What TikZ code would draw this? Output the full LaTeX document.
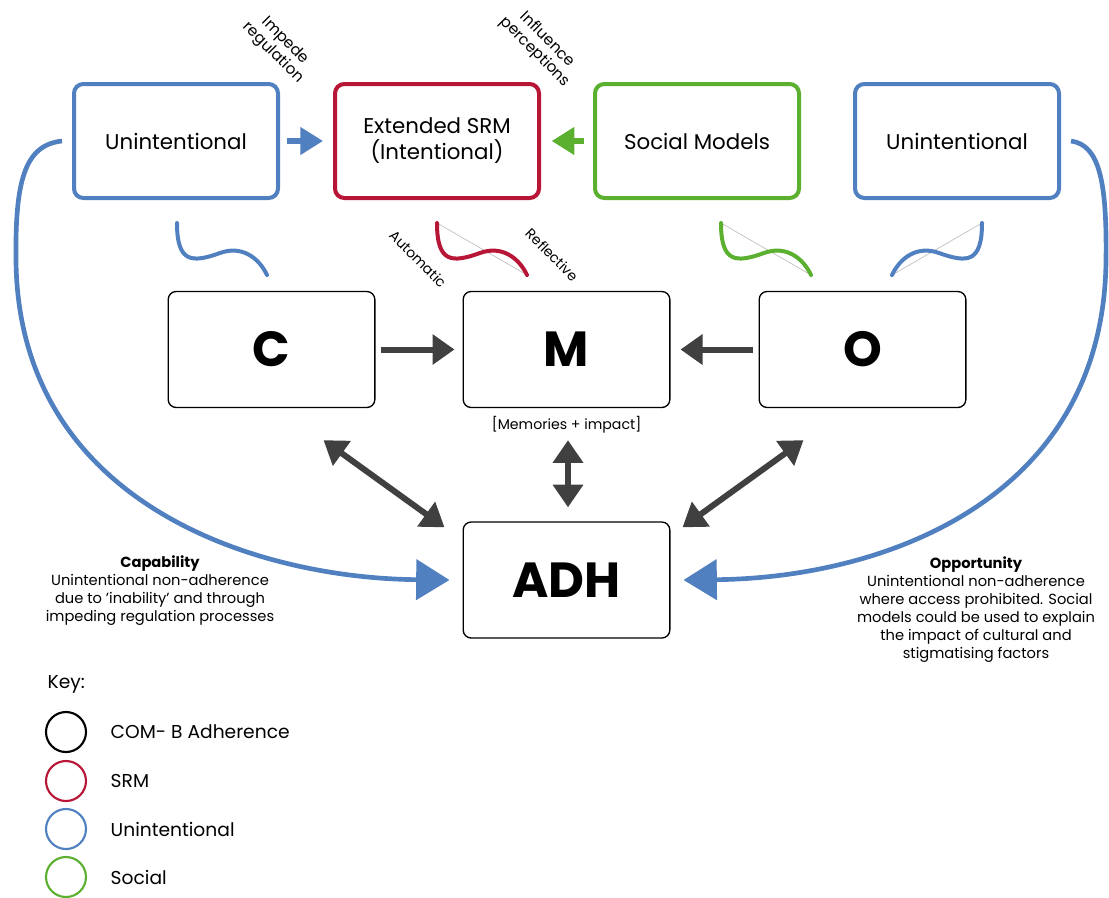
\documentclass[tikz,border=0pt]{standalone}
\usepackage{fontspec}
\setmainfont{Poppins}
\usetikzlibrary{arrows.meta}

\definecolor{ublue}{RGB}{80,128,192}
\definecolor{sred}{RGB}{183,22,55}
\definecolor{sgreen}{RGB}{92,176,48}
\definecolor{dark}{RGB}{64,64,64}
\definecolor{chord}{RGB}{190,190,190}

\tikzset{
  topbox/.style={draw, line width=3pt, rounded corners=7pt, minimum width=153pt, minimum height=85.5pt,
    align=center, font=\fontsize{16}{19.5}\selectfont},
  combox/.style={draw=black, line width=1pt, rounded corners=6pt, minimum width=155pt, minimum height=87pt,
    font=\fontsize{37}{42}\selectfont\bfseries},
  smallarrow/.style={line width=4pt, -{Triangle[length=17pt, width=20pt]}},
  darkarrow/.style={dark, line width=4.5pt, -{Triangle[length=16.5pt, width=22pt]}},
  twoway/.style={dark, line width=4.5pt, {Triangle[length=17pt, width=22pt]}-{Triangle[length=17pt, width=22pt]}},
  bigarrow/.style={ublue, line width=3.5pt, -{Triangle[length=25pt, width=30pt]}},
  rotlabel/.style={rotate=-45, align=center, font=\fontsize{10.5}{12}\selectfont},
  note/.style={align=center, font=\fontsize{11}{13.5}\selectfont},
  keyring/.style={draw, line width=1.6pt, circle, minimum size=30pt, inner sep=0pt},
  keytext/.style={anchor=west, font=\fontsize{14}{16}\selectfont},
  wave/.pic={\draw[pic actions, line width=3pt, line cap=round]
      (0,0) .. controls (0,40) and (15,40) .. (43,30) .. controls (65,22) and (82,35) .. (90,52);},
  wavechord/.pic={\draw[chord, line width=0.5pt] (0,0) -- (90,52);
    \draw[pic actions, line width=3pt, line cap=round]
      (0,0) .. controls (0,40) and (15,40) .. (43,30) .. controls (65,22) and (82,35) .. (90,52);}
}

\begin{document}
\begin{tikzpicture}[x=0.75pt, y=-0.75pt]
\useasboundingbox (0,0) rectangle (1109,897);

% top row: intentional / unintentional influences
\node[topbox, ublue] (UL) at (176,141) {\color{black}Unintentional};
\node[topbox, sred] (SRM) at (437,141) {\color{black}Extended SRM\\\color{black}(Intentional)};
\node[topbox, sgreen] (SM) at (697,141) {\color{black}Social Models};
\node[topbox, ublue] (UR) at (957,141) {\color{black}Unintentional};

% COM-B row
\node[combox] (C) at (271.5,349.5) {C};
\node[combox] (M) at (566.5,349.5) {M};
\node[combox] (O) at (862.5,349.5) {O};
\node[combox] (ADH) at (566.5,580) {ADH};

\node[font=\fontsize{10.6}{12}\selectfont] (mem) at ([shift={(0,17)}]M.south) {[Memories + impact]};

% arrows into the SRM box
\draw[smallarrow, ublue, shorten <=5pt, shorten >=7.5pt] (UL.east) -- (SRM.west);
\draw[smallarrow, sgreen, shorten <=7pt, shorten >=8pt] (SM.west) -- (SRM.east);

% arrows into motivation
\draw[darkarrow, shorten <=3.75pt, shorten >=6pt] (C.east) -- (M.west);
\draw[darkarrow, shorten <=4.5pt, shorten >=7.5pt] (O.west) -- (M.east);

% two-way links with adherence
\draw[twoway] ([shift={(52,32)}]C.south) -- ([shift={(-18,6)}]ADH.north west);
\draw[twoway] ([shift={(1.5,32)}]M.south) -- ([shift={(1.5,-14)}]ADH.north);
\draw[twoway] ([shift={(-59,32)}]O.south) -- ([shift={(12,6)}]ADH.north east);

% unintentional pathways to adherence
\draw[bigarrow] ([shift={(-10,0)}]UL.west) .. controls (25,145) and (15,180) .. (16,260)
  .. controls (18,500) and (250,578) .. ([shift={(-13,0)}]ADH.west);
\draw[bigarrow] ([shift={(10,0)}]UR.east) .. controls (1099,145) and (1107,180) .. (1106,260)
  .. controls (1104,500) and (883,578) .. ([shift={(13,0)}]ADH.east);

% wavy links between the levels
\pic[ublue] at ([shift={(1,23)}]UL.south) {wave};
\pic[sred] at ([shift={(0,23)}]SRM.south) {wavechord};
\pic[sgreen] at ([shift={(24,23)}]SM.south) {wavechord};
\pic[ublue, xscale=-1] at ([shift={(25,23)}]UR.south) {wavechord};

% rotated labels
\node[rotlabel, font=\fontsize{11.5}{13}\selectfont] (imp) at (279,47) {Impede\\regulation};
\node[rotlabel, font=\fontsize{11.5}{13}\selectfont] (inf) at (541,46) {Influence\\perceptions};
\node[rotlabel] (aut) at (418,259) {Automatic};
\node[rotlabel] (ref) at (552,255) {Reflective};

% side notes
\node[note] (cap) at (160,591) {\textbf{Capability}\\Unintentional non-adherence\\due to 'inability' and through\\impeding regulation processes};
\node[note] (opp) at (976,609.5) {\textbf{Opportunity}\\Unintentional non-adherence\\where access prohibited. Social\\models could be used to explain\\the impact of cultural and\\stigmatising factors};

% key
\node[anchor=west, font=\fontsize{14}{16}\selectfont] (key) at (43,684) {Key:};
\node[keyring, draw=black] (k1) at (66,732) {};
\node[keyring, draw=sred] (k2) at (66,781) {};
\node[keyring, draw=ublue] (k3) at (66,829) {};
\node[keyring, draw=sgreen] (k4) at (66,877) {};
\node[keytext] (t1) at (106,732) {COM- B Adherence};
\node[keytext] (t2) at (106,781) {SRM};
\node[keytext] (t3) at (106,829) {Unintentional};
\node[keytext] (t4) at (106,877) {Social};
\end{tikzpicture}
\end{document}
